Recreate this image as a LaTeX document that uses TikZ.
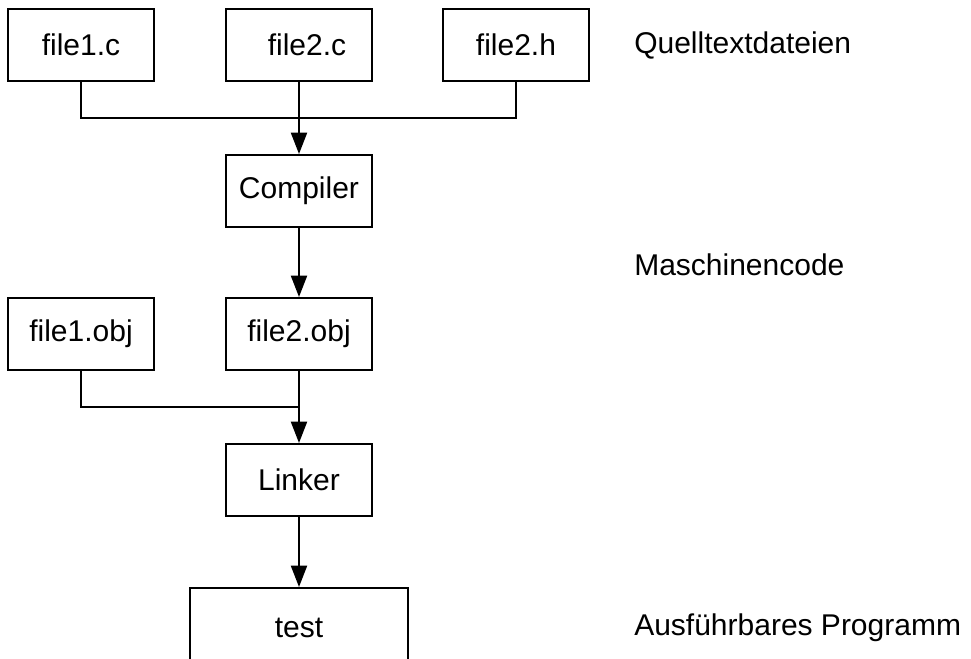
\documentclass[tikz,border=0pt]{standalone}
\usepackage{fontspec}
\setmainfont{Liberation Sans}
\usetikzlibrary{arrows.meta}

\begin{document}
\begin{tikzpicture}[x=0.75pt,y=-0.75pt]
    \tikzstyle{box}=[draw,line width=1.5pt,minimum width=109.5pt,minimum height=54pt,inner sep=0pt,font=\fontsize{22.5}{27}\selectfont]
    \tikzstyle{stage}=[anchor=west,inner sep=0pt,font=\fontsize{22.5}{27}\selectfont]
    \tikzstyle{wire}=[line width=1.5pt]
    \tikzstyle{flow}=[line width=1.5pt,-{Triangle[length=16pt,width=12pt]}]
    \useasboundingbox (0,0) rectangle (971,659);

    \node (c1) at (81,45) [box] {file1.c};
    \node (c2) at (299,45) [box] {\kern12pt file2.c};
    \node (h2) at (516,45) [box] {file2.h};
    \node (comp) at (299,191) [box] {Compiler};
    \node (o1) at (81,334) [box] {file1.obj};
    \node (o2) at (299,334) [box] {file2.obj};
    \node (link) at (299,480) [box] {Linker};
    \node (exe) at (299,628) [box,minimum width=163.5pt,minimum height=60pt] {test};

    \node (q) at (634,45) [stage] {Quelltextdateien};
    \node (m) at (634,265) [stage] {Maschinencode};
    \node (p) at (634,628) [stage] {Ausführbares Programm};

    \coordinate (jt) at (299,118);
    \coordinate (jb) at (299,407);

    \draw [wire] (c1.south) |- (jt) -| (h2.south);
    \draw [flow] (c2.south) -- (comp.north);
    \draw [flow] (comp.south) -- (o2.north);
    \draw [wire] (o1.south) |- (jb);
    \draw [flow] (o2.south) -- (link.north);
    \draw [flow] (link.south) -- (exe.north);
\end{tikzpicture}
\end{document}
